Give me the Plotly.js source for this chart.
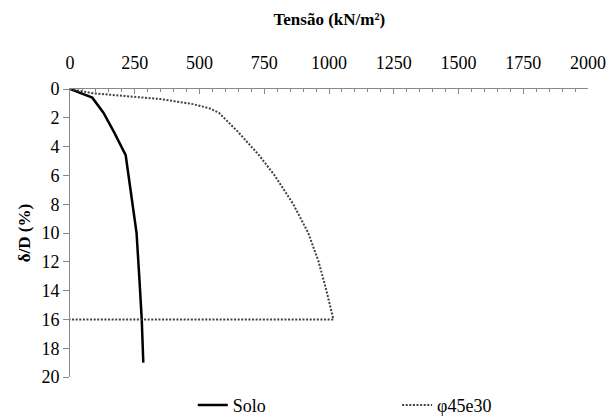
<!DOCTYPE html>
<html>
<head>
<meta charset="utf-8">
<script src="https://cdn.plot.ly/plotly-3.0.1.min.js"></script>
<style>
html,body{margin:0;padding:0;background:#fff}
#chart{width:610px;height:417px}
#chart text{font-family:"Liberation Serif","Times New Roman",serif !important;}
</style>
</head>
<body>
<div id="chart"></div>
<script>
// Solo curve: tension (kN/m²) vs δ/D (%)
const soloTensao = [0, 86, 129, 170, 215, 232, 257, 268, 277, 283];
const soloDeltaD = [0, 0.6, 1.65, 3.0, 4.6, 6.7, 10.0, 13.2, 16.0, 19.0];
// φ45e30 curve
const phiTensao = [0, 90, 220, 350, 475, 540, 575, 650, 730, 790, 862, 920, 960, 990, 1017, 0];
const phiDeltaD = [0, 0.3, 0.5, 0.7, 1.05, 1.35, 1.65, 3.0, 4.6, 6.0, 8.0, 10.0, 12.0, 14.0, 16.0, 16.0];

const xTickVals = [0, 250, 500, 750, 1000, 1250, 1500, 1750, 2000];
const yTickVals = [0, 2, 4, 6, 8, 10, 12, 14, 16, 18, 20];

const FAM = 'Liberation Serif';

const traces = [
  {x: soloTensao, y: soloDeltaD, name: 'Solo', mode: 'lines', type: 'scatter',
   line: {color: '#000000', width: 2.5}, legend: 'legend'},
  {x: phiTensao, y: phiDeltaD, name: 'φ45e30', mode: 'lines', type: 'scatter',
   line: {color: '#404040', width: 2, dash: '2px,1.6px'}, legend: 'legend2'}
];

const layout = {
  width: 610, height: 417,
  margin: {l: 70, r: 22, t: 89, b: 40},
  paper_bgcolor: '#ffffff', plot_bgcolor: '#ffffff',
  title: {text: '<b>Tensão (kN/m²)</b>', font: {family: FAM, size: 17, color: '#000000'},
          x: 0.54, xanchor: 'center', y: 0.955, yanchor: 'middle'},
  xaxis: {side: 'top', range: [0, 2000], tickvals: xTickVals, ticktext: xTickVals.map(String),
          ticks: 'inside', ticklen: 5, tickcolor: '#888', tickwidth: 1,
          minor: {dtick: 50, ticks: 'inside', ticklen: 3, tickcolor: '#888', tickwidth: 1},
          showline: true, linecolor: '#888', linewidth: 1, showgrid: false, zeroline: false,
          ticklabelstandoff: 12, tickfont: {family: FAM, size: 18, color: '#000000'}},
  yaxis: {range: [20, 0], tickvals: yTickVals, ticktext: yTickVals.map(String),
          ticks: 'outside', ticklen: 6, tickcolor: '#888', tickwidth: 1,
          showline: true, linecolor: '#888', linewidth: 1, showgrid: false, zeroline: false,
          tickfont: {family: FAM, size: 18, color: '#000000'},
          title: {text: '<b>δ/D (%)</b>', font: {family: FAM, size: 17, color: '#000000'}, standoff: 6}},
  showlegend: true,
  legend: {orientation: 'h', x: 0.316, xanchor: 'left', xref: 'container',
           y: 0.028, yanchor: 'middle', yref: 'container',
           font: {family: FAM, size: 18, color: '#000000'}, bgcolor: 'rgba(0,0,0,0)'},
  legend2: {orientation: 'h', x: 0.651, xanchor: 'left', xref: 'container',
           y: 0.028, yanchor: 'middle', yref: 'container',
           font: {family: FAM, size: 18, color: '#000000'}, bgcolor: 'rgba(0,0,0,0)'}
};

Plotly.newPlot('chart', traces, layout, {displayModeBar: false});
</script>
</body>
</html>
